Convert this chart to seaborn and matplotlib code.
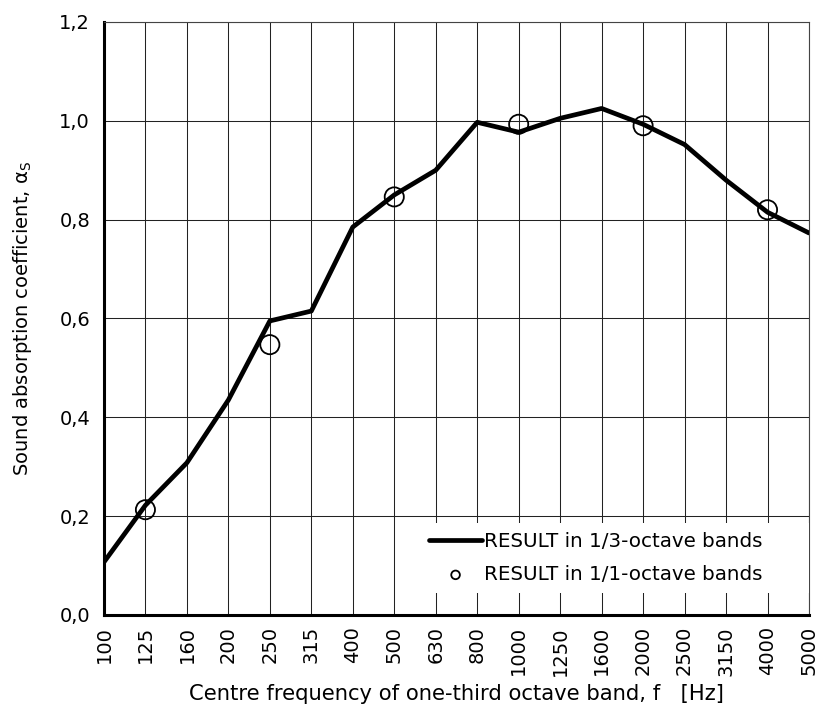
import numpy as np
import pandas as pd
import matplotlib
matplotlib.use('Agg')
import matplotlib.pyplot as plt
import seaborn as sns

# one-third octave band centre frequencies
freqs = ['100', '125', '160', '200', '250', '315', '400', '500', '630', '800',
         '1000', '1250', '1600', '2000', '2500', '3150', '4000', '5000']
alpha_third = [0.107, 0.222, 0.308, 0.435, 0.595, 0.615, 0.785, 0.850, 0.900, 0.997,
               0.977, 1.005, 1.025, 0.993, 0.952, 0.880, 0.815, 0.773]

# octave band results
oct_freqs = ['125', '250', '500', '1000', '2000', '4000']
alpha_oct = [0.213, 0.547, 0.846, 0.993, 0.990, 0.820]

yticks = [0.0, 0.2, 0.4, 0.6, 0.8, 1.0, 1.2]

sns.set_style('white')
plt.rcParams['font.family'] = ['DejaVu Sans']
plt.rcParams['text.color'] = 'black'
plt.rcParams['xtick.labelcolor'] = 'black'
plt.rcParams['ytick.labelcolor'] = 'black'
plt.rcParams['axes.labelcolor'] = 'black'

df3 = pd.DataFrame({'freq': freqs, 'alpha': alpha_third})
df1 = pd.DataFrame({'freq': oct_freqs, 'alpha': alpha_oct})

fig = plt.figure(figsize=(8.25, 7.18), dpi=100)
ax = fig.add_axes([0.126, 0.1435, 0.8546, 0.8259])

sns.lineplot(data=df3, x='freq', y='alpha', ax=ax, color='black', lw=3.4,
             label='RESULT in 1/3-octave bands', zorder=3)
sns.scatterplot(data=df1, x='freq', y='alpha', ax=ax, s=190, marker='o',
                facecolor='none', edgecolor='black', linewidth=1.3,
                label='RESULT in 1/1-octave bands', zorder=4)

ax.set_xlim(0, len(freqs) - 1)
ax.set_ylim(0, 1.2)
ax.set_yticks(yticks)
ax.set_yticklabels([f'{v:.1f}'.replace('.', ',') for v in yticks], fontsize=14)
ax.set_xticks(range(len(freqs)))
ax.set_xticklabels(freqs, rotation=90, fontsize=14)

ax.grid(True, color='#222222', lw=0.75)
ax.set_axisbelow(True)
for s in ['top', 'right']:
    ax.spines[s].set_color('#444444')
    ax.spines[s].set_linewidth(0.8)
for s in ['left', 'bottom']:
    ax.spines[s].set_color('black')
    ax.spines[s].set_linewidth(2.2)
ax.tick_params(axis='both', direction='inout', length=10, width=2, color='black')
ax.tick_params(axis='x', pad=3)
ax.tick_params(axis='y', pad=5)

ax.set_xlabel('Centre frequency of one-third octave band, f   [Hz]', fontsize=15.2, labelpad=6)
ax.set_ylabel('Sound absorption coefficient, α$_\\mathrm{S}$', fontsize=14, labelpad=18)

h, l = ax.get_legend_handles_labels()
leg = ax.legend(h, l, loc='lower left', bbox_to_anchor=(0.448, 0.037, 0.552, 0.128),
                mode='expand', fontsize=14.3, markerscale=0.45, frameon=True,
                fancybox=False, framealpha=1, edgecolor='white', handlelength=2.7,
                handletextpad=0.1, borderpad=0.45, labelspacing=0.7, borderaxespad=0)
leg.get_frame().set_linewidth(0)

fig.savefig('out.png', dpi=100)
